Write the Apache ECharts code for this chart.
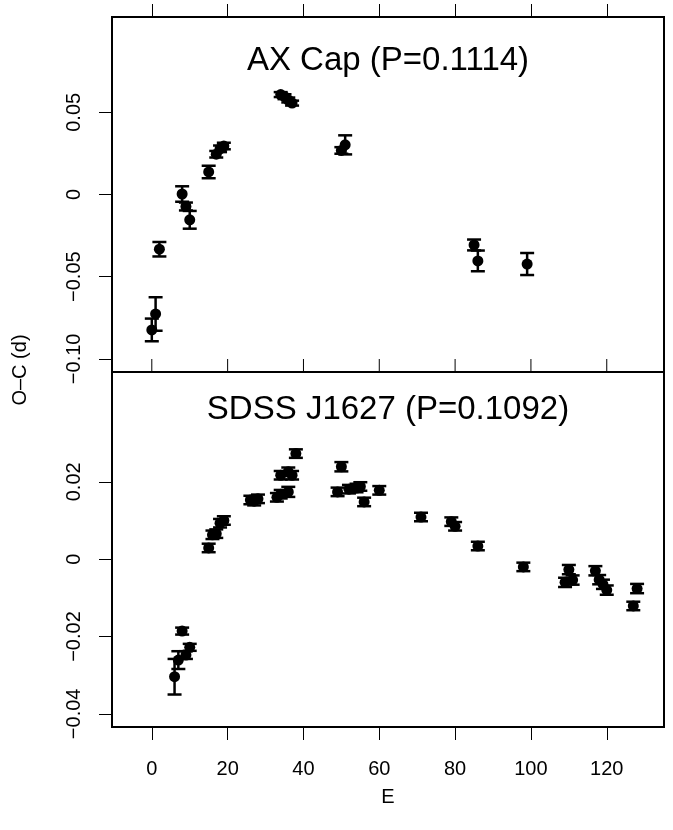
<!DOCTYPE html>
<html><head><meta charset="utf-8">
<script src="https://cdn.jsdelivr.net/npm/echarts@6/dist/echarts.min.js"></script>
<style>html,body{margin:0;padding:0;background:#fff}#c{width:673px;height:830px}</style>
</head><body><div id="c"></div>
<script>
// ---- Data: AX Cap (top panel) ----
const axE   = [0, 1, 2, 8, 9, 10, 15, 17, 18, 19, 34, 35, 36, 37, 50, 51, 85, 86, 99];
const axOC  = [-0.0824, -0.0727, -0.0333, 0.0003, -0.0073, -0.0154, 0.0137, 0.0245, 0.0278, 0.0295,
               0.0608, 0.0595, 0.0575, 0.0556, 0.0268, 0.0302, -0.0307, -0.0404, -0.0423];
const axErr = [0.0069, 0.0102, 0.0044, 0.0047, 0.0024, 0.0054, 0.0038, 0.0020, 0.0020, 0.0020,
               0.0015, 0.0015, 0.0015, 0.0015, 0.0020, 0.0058, 0.0033, 0.0063, 0.0067];
// ---- Data: SDSS J1627 (bottom panel) ----
const sdE   = [6, 7, 8, 9, 10, 15, 16, 17, 18, 19, 26, 27, 28, 33, 34, 36, 34, 36, 37, 38,
               49, 50, 52, 54, 55, 56, 60, 71, 79, 80, 86, 98, 110, 109, 111, 117, 118, 119, 120, 128, 127];
const sdOC  = [-0.0304, -0.0261, -0.0186, -0.0248, -0.0228, 0.0029, 0.0063, 0.0066, 0.0093, 0.0100,
               0.0153, 0.0150, 0.0156, 0.0160, 0.0168, 0.0174, 0.0217, 0.0226, 0.0217, 0.0273,
               0.0174, 0.0239, 0.0181, 0.0184, 0.0188, 0.0148, 0.0178, 0.0109, 0.0097, 0.0085,
               0.0034, -0.0020, -0.0027, -0.0060, -0.0054, -0.0030, -0.0053, -0.0065, -0.0080, -0.0076, -0.0121];
const sdErr = [0.0046, 0.0023, 0.0009, 0.0010, 0.0009, 0.0011, 0.0011, 0.0011, 0.0011, 0.0011,
               0.0011, 0.0011, 0.0011, 0.0011, 0.0011, 0.0013, 0.0011, 0.0011, 0.0011, 0.0011,
               0.0011, 0.0012, 0.0011, 0.0011, 0.0011, 0.0011, 0.0011, 0.0011, 0.0011, 0.0011,
               0.0011, 0.0011, 0.0012, 0.0012, 0.0012, 0.0012, 0.0012, 0.0012, 0.0012, 0.0012, 0.0011];
// ---- Ticks / labels ----
const xTicks = [0, 20, 40, 60, 80, 100, 120];
const axTicks = [-0.10, -0.05, 0, 0.05];
const axTickLabels = ['\u22120.10', '\u22120.05', '0', '0.05'];
const sdTicks = [-0.04, -0.02, 0, 0.02];
const sdTickLabels = ['\u22120.04', '\u22120.02', '0', '0.02'];
const titleTop = 'AX Cap (P=0.1114)';
const titleBottom = 'SDSS J1627 (P=0.1092)';
const yTitle = 'O\u2013C (d)';
const xTitle = 'E';

const FONT = 'Liberation Sans, Arial, Helvetica, sans-serif';
const chart = echarts.init(document.getElementById('c'), null, {renderer: 'canvas'});

const axYMin = -0.108, axYMax = 0.108, sdYMin = -0.0434, sdYMax = 0.0484;

function lab(ticks, labels) {
  return v => { const i = ticks.findIndex(t => Math.abs(t - v) < 1e-9); return i >= 0 ? labels[i] : ''; };
}
function errSeries(xi, yi, E, V, Err) {
  return {
    type: 'custom', xAxisIndex: xi, yAxisIndex: yi, silent: true, z: 2,
    data: E.map((e, i) => [e, V[i] - Err[i], V[i] + Err[i]]),
    renderItem: (params, api) => {
      const lo = api.coord([api.value(0), api.value(1)]);
      const hi = api.coord([api.value(0), api.value(2)]);
      const w = 7, st = {stroke: '#000', lineWidth: 2.5};
      return {type: 'group', children: [
        {type: 'line', shape: {x1: lo[0], y1: lo[1], x2: hi[0], y2: hi[1]}, style: st},
        {type: 'line', shape: {x1: lo[0] - w, y1: lo[1], x2: lo[0] + w, y2: lo[1]}, style: st},
        {type: 'line', shape: {x1: hi[0] - w, y1: hi[1], x2: hi[0] + w, y2: hi[1]}, style: st}
      ]};
    }
  };
}
const xMin = -10.5, xMax = 135.1;
function xAx(grid, pos, showLabels) {
  return {
    gridIndex: grid, type: 'value', position: pos, min: xMin, max: xMax,
    axisLine: {show: false, onZero: false}, splitLine: {show: false},
    axisTick: {show: true, inside: false, length: 13, customValues: xTicks, lineStyle: {color: '#000', width: 1}},
    axisLabel: {show: showLabels, customValues: xTicks, fontSize: 20, color: '#000', fontFamily: FONT, margin: 32},
    name: showLabels ? xTitle : '', nameLocation: 'middle', nameGap: 60,
    nameTextStyle: {fontSize: 20, color: '#000', fontFamily: FONT}
  };
}
function yAx(grid, min, max, ticks, labels) {
  return {
    gridIndex: grid, type: 'value', position: 'left', min: min, max: max,
    axisLine: {show: false, onZero: false}, splitLine: {show: false},
    axisTick: {show: true, inside: false, length: 13, customValues: ticks, lineStyle: {color: '#000', width: 1}},
    axisLabel: {customValues: ticks, rotate: 90, fontSize: 20, color: '#000', fontFamily: FONT,
                margin: 28, formatter: lab(ticks, labels)}
  };
}

const baseGraphic = [
  {type: 'text', x: 388, y: 61, style: {text: titleTop, font: '33px ' + FONT, fill: '#000', textAlign: 'center', textVerticalAlign: 'middle'}},
  {type: 'text', x: 388, y: 410, style: {text: titleBottom, font: '33px ' + FONT, fill: '#000', textAlign: 'center', textVerticalAlign: 'middle'}},
  {type: 'text', x: 20, y: 370, rotation: Math.PI / 2, style: {text: yTitle, font: '20px ' + FONT, fill: '#000', textAlign: 'center', textVerticalAlign: 'middle'}}
];

chart.setOption({
  animation: false,
  backgroundColor: '#fff',
  grid: [
    {left: 112, right: 9, top: 17, height: 355, show: true, borderColor: '#000', borderWidth: 2, backgroundColor: 'transparent'},
    {left: 112, right: 9, top: 372, height: 355, show: true, borderColor: '#000', borderWidth: 2, backgroundColor: 'transparent'}
  ],
  xAxis: [xAx(0, 'top', false), xAx(1, 'bottom', true)],
  yAxis: [yAx(0, axYMin, axYMax, axTicks, axTickLabels), yAx(1, sdYMin, sdYMax, sdTicks, sdTickLabels)],
  graphic: baseGraphic,
  series: [
    errSeries(0, 0, axE, axOC, axErr),
    {type: 'scatter', xAxisIndex: 0, yAxisIndex: 0, symbol: 'circle', symbolSize: 11, itemStyle: {color: '#000', opacity: 1},
     data: axE.map((e, i) => [e, axOC[i]]), z: 3, silent: true},
    errSeries(1, 1, sdE, sdOC, sdErr),
    {type: 'scatter', xAxisIndex: 1, yAxisIndex: 1, symbol: 'circle', symbolSize: 11, itemStyle: {color: '#000', opacity: 1},
     data: sdE.map((e, i) => [e, sdOC[i]]), z: 3, silent: true}
  ]
});

// tick marks on the divider between the panels (pointing up), positioned via the chart's own x scale
const divY = chart.convertToPixel({yAxisIndex: 1}, sdYMax);
const tickLines = xTicks.map(t => {
  const px = chart.convertToPixel({xAxisIndex: 1}, t);
  return {type: 'line', z: 100, silent: true,
          shape: {x1: px, y1: divY, x2: px, y2: divY - 13},
          style: {stroke: '#000', lineWidth: 1}};
});
chart.setOption({graphic: baseGraphic.concat(tickLines)});
</script></body></html>
